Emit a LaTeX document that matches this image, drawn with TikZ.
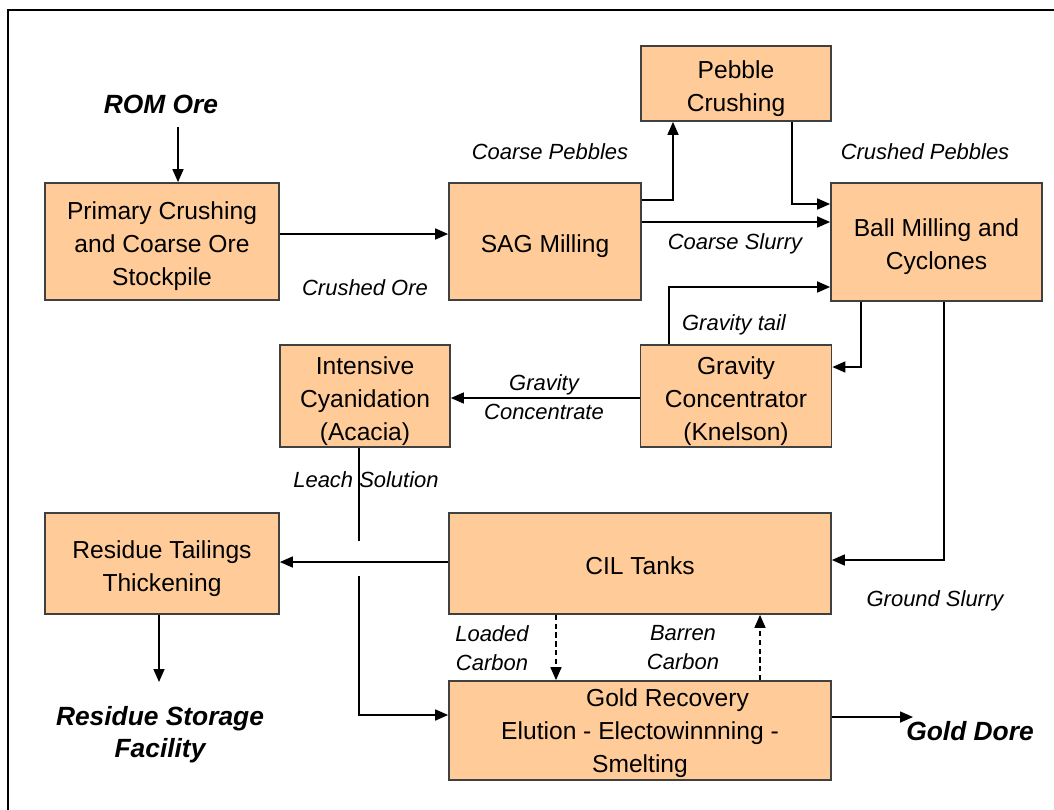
\documentclass[tikz,border=0pt]{standalone}
\usepackage{fontspec}
\setmainfont{Liberation Sans}
\usetikzlibrary{arrows.meta}
\definecolor{peach}{HTML}{FFCC99}
\definecolor{edge}{HTML}{404040}
\newcommand{\topstrut}[1][16.7pt]{\rule{0pt}{#1}}

\begin{document}
\begin{tikzpicture}[x=0.02cm, y=-0.02cm,
    box/.style={draw=edge, line width=1pt, fill=peach, align=center, inner sep=0pt,
        font=\fontsize{14}{18.8}\selectfont,
        execute at end node={\rule[-4pt]{0pt}{0pt}}},
    lbl/.style={align=center, font=\fontsize{12.5}{16.5}\selectfont\itshape},
    endlbl/.style={align=center, font=\fontsize{15}{18.2}\selectfont\bfseries\itshape},
    flow/.style={-{Triangle[length=2.6mm, width=2.2mm]}, line width=0.9pt},
    carbon/.style={flow, dash pattern=on 3pt off 2pt}]
            \useasboundingbox (0,0) rectangle (1054,809);
            \draw[line width=1.1pt] (8,812) -- (8,10) -- (1057,10);

            \node[box, minimum width=4.68cm, minimum height=2.34cm] (primary) at (162,241.5) {\topstrut Primary Crushing\\and Coarse Ore\\Stockpile};
            \node[box, minimum width=3.84cm, minimum height=2.34cm] (sag) at (545,241.5) {\topstrut SAG Milling};
            \node[box, minimum width=3.8cm, minimum height=1.5cm] (pebble) at (736,83.5) {\topstrut Pebble\\Crushing};
            \node[box, minimum width=4.22cm, minimum height=2.36cm] (ball) at (936.5,242) {\topstrut Ball Milling and\\Cyclones};
            \node[box, minimum width=3.4cm, minimum height=2.04cm] (icn) at (365,396) {\topstrut Intensive\\Cyanidation\\(Acacia)};
            \node[box, minimum width=3.82cm, minimum height=2.02cm] (grav) at (736,396) {\topstrut Gravity\\Concentrator\\(Knelson)};
            \node[box, minimum width=4.68cm, minimum height=2.02cm] (rtt) at (162,563.5) {\topstrut Residue Tailings\\Thickening};
            \node[box, minimum width=7.64cm, minimum height=2.02cm] (cil) at (640,563.5) {\topstrut CIL Tanks};
            \node[box, minimum width=7.64cm, minimum height=1.98cm] (gold) at (640,730.5) {\topstrut[14.5pt]\hspace*{1.1cm}Gold Recovery\\Elution - Electowinnning -\\Smelting};

            \node[endlbl] (rom) at (161,104) {ROM Ore};
            \node[endlbl] (rsf) at (160,735) {Residue Storage\\Facility};
            \node[endlbl] (dore) at (970,731) {Gold Dore};

            \node[lbl] (lcrushed) at (365,288) {Crushed Ore};
            \node[lbl] (lcoarsep) at (550,152) {Coarse Pebbles};
            \node[lbl] (lcrushp) at (925,152) {Crushed Pebbles};
            \node[lbl] (lslurry) at (735,244) {Coarse Slurry};
            \node[lbl] (ltail) at (734,325) {Gravity tail};
            \node[lbl] (lconc) at (544,397) {Gravity\\Concentrate};
            \node[lbl] (lleach) at (366,480) {Leach Solution};
            \node[lbl] (lground) at (935,601) {Ground Slurry};
            \node[lbl] (lloaded) at (492,648) {Loaded\\Carbon};
            \node[lbl] (lbarren) at (683,648) {Barren\\Carbon};

            \coordinate (romx) at (178,127);
            \coordinate (crow) at (0,234);
            \coordinate (cp) at (673,200);
            \coordinate (cq) at (792,204);
            \coordinate (cs) at (0,222);
            \coordinate (ct) at (669,287);
            \coordinate (cb) at (861,367);
            \coordinate (cg) at (944,560);
            \coordinate (cc) at (0,398);
            \coordinate (cr) at (0,562);
            \coordinate (lgap1) at (359,541);
            \coordinate (lgap2) at (359,576);
            \coordinate (lturn) at (359,715);
            \coordinate (cf) at (159,682);
            \coordinate (ld) at (556,0);
            \coordinate (bd) at (760,0);
            \coordinate (gd) at (913,717);

            \draw[flow] (romx) -- (primary.north -| romx);
            \draw[flow] (primary.east |- crow) -- (sag.west |- crow);
            \draw[flow] (sag.east |- cp) -| (pebble.south -| cp);
            \draw[flow] (pebble.south -| cq) |- (ball.west |- cq);
            \draw[flow] (sag.east |- cs) -- (ball.west |- cs);
            \draw[flow] (grav.north -| ct) |- (ball.west |- ct);
            \draw[flow] (ball.south -| cb) |- (grav.east |- cb);
            \draw[flow] (ball.south -| cg) |- (cil.east |- cg);
            \draw[flow] (grav.west |- cc) -- (icn.east |- cc);
            \draw[flow] (cil.west |- cr) -- (rtt.east |- cr);
            \draw[line width=0.9pt] (icn.south -| lgap1) -- (lgap1);
            \draw[flow] (lgap2) |- (gold.west |- lturn);
            \draw[flow] (rtt.south -| cf) -- (cf);
            \draw[carbon] (cil.south -| ld) -- (gold.north -| ld);
            \draw[carbon] (gold.north -| bd) -- (cil.south -| bd);
            \draw[flow] (gold.east |- gd) -- (gd);
        \end{tikzpicture}
\end{document}
